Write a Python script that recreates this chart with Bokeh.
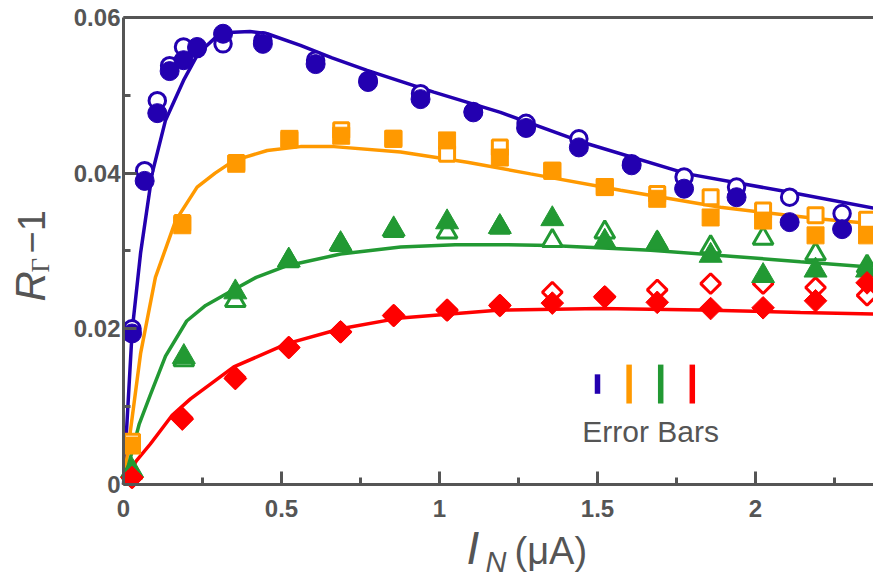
import numpy as np
from bokeh.plotting import figure
from bokeh.models import (Label, FixedTicker, NumeralTickFormatter, Range1d, LinearAxis)
from bokeh.embed import file_html
from bokeh.resources import INLINE

# ---------------- data ----------------
x_ticks = [0, 0.5, 1, 1.5, 2]
x_minor = [0.25, 0.75, 1.25, 1.75, 2.25]
y_ticks = [0, 0.02, 0.04, 0.06]
y_minor = [0.01, 0.03, 0.05]

blue_x = [0.027, 0.067, 0.107, 0.146, 0.19, 0.233, 0.315, 0.441, 0.608, 0.774,
          0.94, 1.107, 1.274, 1.441, 1.608, 1.774, 1.94, 2.108, 2.274]
blue_filled = [0.0194, 0.0390, 0.0477, 0.0531, 0.0545, 0.0562, 0.0579, 0.0566, 0.0540, 0.0517,
               0.0495, 0.0478, 0.0458, 0.0433, 0.0410, 0.0380, 0.0369, 0.0337, 0.0328]
blue_open = [0.0200, 0.0403, 0.0493, 0.0538, 0.0562, 0.0560, 0.0566, 0.0570, 0.0545, 0.0519,
             0.0502, 0.0479, 0.0464, 0.0444, 0.0412, 0.0395, 0.0382, 0.0369, 0.0348]

orange_x = [0.027, 0.186, 0.357, 0.525, 0.689, 0.854, 1.024, 1.191, 1.357, 1.523,
            1.689, 1.858, 2.024, 2.19, 2.353]
orange_filled = [0.0050, 0.0333, 0.0412, 0.0444, 0.0448, 0.0444, 0.0442, 0.0420, 0.0403, 0.0382,
                 0.0367, 0.0343, 0.0339, 0.0320, 0.0320]
orange_open = [0.0055, 0.0336, 0.0413, 0.0443, 0.0455, 0.0444, 0.0425, 0.0433, 0.0403, 0.0382,
               0.0373, 0.0369, 0.0352, 0.0346, 0.0340]

green_x = [0.027, 0.191, 0.354, 0.523, 0.687, 0.855, 1.024, 1.191, 1.357, 1.523,
           1.689, 1.858, 2.024, 2.19, 2.353]
green_filled = [0.0018, 0.0164, 0.0247, 0.0288, 0.0309, 0.0328, 0.0337, 0.0331, 0.0341, 0.0312,
                0.0310, 0.0294, 0.0268, 0.0275, 0.0275]
green_open = [0.0015, 0.0160, 0.0236, 0.0287, 0.0308, 0.0326, 0.0324, 0.0330, 0.0313, 0.0324,
              0.0310, 0.0305, 0.0316, 0.0296, 0.0280]

red_x = [0.027, 0.186, 0.354, 0.523, 0.687, 0.855, 1.024, 1.191, 1.357, 1.523,
         1.689, 1.858, 2.024, 2.19, 2.353]
red_filled = [0.0009, 0.0084, 0.0136, 0.0176, 0.0196, 0.0217, 0.0224, 0.0230, 0.0233, 0.0241,
              0.0234, 0.0226, 0.0227, 0.0236, 0.0259]
red_open = [0.0009, 0.0085, 0.0137, 0.0176, 0.0196, 0.0217, 0.0224, 0.0230, 0.0247, 0.0241,
            0.0250, 0.0258, 0.0258, 0.0253, 0.0243]

blue_fit_x = [0, 0.0275, 0.054, 0.091, 0.133, 0.19, 0.237, 0.291, 0.349, 0.40, 0.455, 0.56,
              0.66, 0.771, 0.982, 1.193, 1.45, 1.784, 2.1, 2.373]
blue_fit_y = [0, 0.0198, 0.0297, 0.0400, 0.0468, 0.0519, 0.0554, 0.0574, 0.0581, 0.0582, 0.0579, 0.0564,
              0.0548, 0.0532, 0.0504, 0.0478, 0.0440, 0.0399, 0.0376, 0.0355]
orange_fit_x = [0, 0.022, 0.054, 0.101, 0.165, 0.233, 0.29, 0.349, 0.455, 0.56, 0.666, 0.877,
                1.088, 1.288, 1.573, 1.889, 2.206, 2.373]
orange_fit_y = [0, 0.0069, 0.0168, 0.0266, 0.0339, 0.0382, 0.0400, 0.0416, 0.0429, 0.0434, 0.0434, 0.0427,
                0.0414, 0.0399, 0.0378, 0.0356, 0.0341, 0.0335]
green_fit_x = [0, 0.05, 0.085, 0.133, 0.2, 0.26, 0.33, 0.42, 0.518, 0.687, 0.877, 1.05, 1.193,
               1.351, 1.668, 1.931, 2.142, 2.373]
green_fit_y = [0, 0.0078, 0.0115, 0.0165, 0.0210, 0.0230, 0.0246, 0.0266, 0.0281, 0.0296, 0.0305, 0.0308, 0.0308,
               0.0307, 0.0301, 0.0293, 0.0286, 0.0279]
red_fit_x = [0, 0.04, 0.085, 0.154, 0.212, 0.349, 0.518, 0.687, 0.877, 1.193, 1.509, 1.826, 2.142, 2.373]
red_fit_y = [0, 0.0030, 0.0052, 0.0089, 0.0110, 0.0151, 0.0181, 0.0200, 0.0214, 0.0224, 0.0226, 0.0224,
             0.0221, 0.0219]

errbar_x = [1.5, 1.6, 1.7, 1.8]
errbar_center = [0.0129, 0.0129, 0.0129, 0.0129]
errbar_half = [0.00125, 0.0025, 0.0025, 0.0025]

BLUE = "#2300B0"
ORANGE = "#FF9900"
GREEN = "#229933"
RED = "#FF0000"
GRAY = "#555555"

X_MIN, X_MAX = -0.3892, 2.3734
Y_MIN, Y_MAX = -0.01259, 0.06217

# ---------------- figure ----------------
p = figure(width=873, height=582, output_backend="svg", toolbar_location=None,
           x_range=Range1d(X_MIN, X_MAX), y_range=Range1d(Y_MIN, Y_MAX),
           x_axis_location=None, y_axis_location=None, min_border=0)
p.outline_line_color = None
p.grid.visible = False
p.background_fill_color = "white"
p.border_fill_color = "white"


def style_axis(ax):
    ax.axis_line_color = GRAY
    ax.axis_line_width = 3
    ax.major_tick_line_color = GRAY
    ax.major_tick_line_width = 3
    ax.minor_tick_line_color = GRAY
    ax.minor_tick_line_width = 3
    ax.major_tick_in = 13
    ax.major_tick_out = 0
    ax.minor_tick_in = 7
    ax.minor_tick_out = 0
    ax.major_label_text_font = "Liberation Sans"
    ax.major_label_text_font_style = "bold"
    ax.major_label_text_font_size = "24px"
    ax.major_label_text_color = GRAY


xaxis = LinearAxis(fixed_location=0, bounds=(0, X_MAX),
                   ticker=FixedTicker(ticks=x_ticks, minor_ticks=x_minor),
                   formatter=NumeralTickFormatter(format="0.[0]"), major_label_standoff=16)
style_axis(xaxis)
p.add_layout(xaxis, "below")

yaxis = LinearAxis(fixed_location=0, bounds=(0, y_ticks[-1]),
                   ticker=FixedTicker(ticks=y_ticks, minor_ticks=y_minor),
                   formatter=NumeralTickFormatter(format="0.[00]"), major_label_standoff=3)
style_axis(yaxis)
p.add_layout(yaxis, "left")

topaxis = LinearAxis(fixed_location=y_ticks[-1], bounds=(0, X_MAX),
                     ticker=FixedTicker(ticks=[], minor_ticks=[]),
                     major_label_text_font_size="0px")
topaxis.axis_line_color = GRAY
topaxis.axis_line_width = 3
topaxis.major_tick_line_color = None
topaxis.minor_tick_line_color = None
p.add_layout(topaxis, "above")

# fitted curves
for fx, fy, c in ((blue_fit_x, blue_fit_y, BLUE), (orange_fit_x, orange_fit_y, ORANGE),
                  (green_fit_x, green_fit_y, GREEN), (red_fit_x, red_fit_y, RED)):
    p.line(fx, fy, line_color=c, line_width=3.5)

# open markers (white fill) first, filled markers on top
p.scatter(blue_x, blue_open, marker="circle", size=16.5, fill_color="white", line_color=BLUE, line_width=3)
p.scatter(orange_x, orange_open, marker="square", size=15, fill_color="white", line_color=ORANGE, line_width=3)
p.scatter(green_x, green_open, marker="triangle", size=20, fill_color="white", line_color=GREEN, line_width=3)
p.scatter(red_x, red_open, marker="square", angle=np.pi / 4, size=14, fill_color="white", line_color=RED, line_width=3)

p.scatter(blue_x, blue_filled, marker="circle", size=19, fill_color=BLUE, line_color=BLUE)
p.scatter(orange_x, orange_filled, marker="square", size=17, fill_color=ORANGE, line_color=ORANGE)
p.scatter(green_x, green_filled, marker="triangle", size=23, fill_color=GREEN, line_color=GREEN)
p.scatter(red_x, red_filled, marker="square", angle=np.pi / 4, size=16, fill_color=RED, line_color=RED)

# error bar indicators
eb_c = np.array(errbar_center)
eb_h = np.array(errbar_half)
p.segment(x0=errbar_x, y0=eb_c - eb_h, x1=errbar_x, y1=eb_c + eb_h,
          line_color=[BLUE, ORANGE, GREEN, RED], line_width=5.5, line_cap="butt")
p.add_layout(Label(x=1.4516, y=0.00686, text="Error Bars", text_font="Liberation Sans",
                   text_font_size="30px", text_color=GRAY, text_baseline="alphabetic"))

# axis titles, positioned in screen pixels (frame covers the whole canvas)
H = 582
def lab(px, py, text, size, style="normal", font="Liberation Sans", angle=0.0):
    p.add_layout(Label(x=px, y=H - py, x_units="screen", y_units="screen", text=text,
                       text_font=font, text_font_size=size, text_font_style=style,
                       text_color=GRAY, text_align="left", text_baseline="alphabetic",
                       angle=angle))

lab(466, 547, "I", "46px", "italic")
lab(485, 561, "N", "29px", "italic")
lab(514, 550, "(μA)", "38px")

lab(30, 301, "R", "42px", "italic", angle=np.pi / 2)
lab(40, 272, "Γ", "25px", font="Liberation Serif", angle=np.pi / 2)
lab(31, 253, "−1", "38px", angle=np.pi / 2)

open("out.html", "w").write(file_html(p, INLINE))
